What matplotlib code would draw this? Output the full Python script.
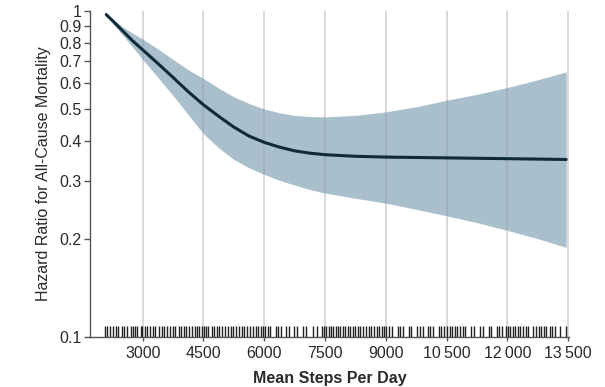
import matplotlib
matplotlib.use("Agg")
import matplotlib.pyplot as plt

plt.rcParams['font.family'] = ['Liberation Sans Narrow', 'Liberation Sans', 'DejaVu Sans']

# Estimated spline (steps per day -> hazard ratio with 95% CI)
steps = [2100, 2250, 2500, 2750, 3000, 3375, 3750, 4125, 4500, 4875, 5250, 5625,
         6000, 6375, 6750, 7125, 7500, 8250, 9000, 9750, 10500, 11250, 12000,
         12750, 13450]
hr = [0.975, 0.935, 0.87, 0.81, 0.76, 0.69, 0.625, 0.565, 0.515, 0.475, 0.44, 0.413,
      0.395, 0.382, 0.372, 0.366, 0.362, 0.358, 0.356, 0.355, 0.354, 0.353, 0.352,
      0.351, 0.350]
lower = [0.975, 0.92, 0.845, 0.775, 0.71, 0.625, 0.55, 0.48, 0.42, 0.38, 0.35, 0.33,
         0.315, 0.302, 0.292, 0.283, 0.276, 0.266, 0.257, 0.246, 0.235, 0.224, 0.212,
         0.20, 0.188]
upper = [0.975, 0.95, 0.895, 0.855, 0.82, 0.765, 0.71, 0.66, 0.62, 0.58, 0.545, 0.52,
         0.50, 0.487, 0.478, 0.474, 0.473, 0.478, 0.49, 0.508, 0.532, 0.555, 0.582,
         0.615, 0.65]

# Rug of individual participants' mean steps
rug = [2060, 2130, 2190, 2270, 2330, 2400, 2490, 2540, 2620, 2700, 2760, 2820, 2870, 2950, 2990,
       3050, 3100, 3180, 3260, 3310, 3400, 3470, 3520, 3600, 3680, 3740, 3800, 3890, 3950, 4020,
       4080, 4150, 4220, 4280, 4350, 4400, 4460, 4510,
       4560, 4620, 4700, 4770, 4830, 4890, 4960, 5040, 5100, 5170, 5230, 5310, 5380, 5440, 5500,
       5580, 5650, 5720, 5790, 5850, 5920, 5980, 6030,
       6090, 6150, 6280, 6340, 6420, 6540, 6600, 6740, 6810, 6960, 7040, 7210, 7300, 7420, 7480, 7530,
       7590, 7640, 7700, 7760, 7820, 7880, 7940, 8000, 8060, 8120, 8180, 8250, 8310, 8370, 8440,
       8500, 8580, 8640, 8710, 8780, 8840, 8900, 8960, 9010,
       9070, 9140, 9300, 9360, 9420, 9560, 9620, 9780, 9850, 9910, 10040, 10100, 10160, 10300,
       10350, 10440, 10520,
       10580, 10640, 10700, 10760, 10830, 10900, 10960, 11100, 11180, 11320, 11400, 11540, 11600,
       11740, 11800, 11870, 11960, 12020,
       12070, 12130, 12190, 12260, 12320, 12390, 12450, 12520, 12640, 12700, 12770, 12840, 12900,
       12960, 13050, 13110, 13180, 13300, 13450]

xticks = [3000, 4500, 6000, 7500, 9000, 10500, 12000, 13500]
xticklabels = ['3000', '4500', '6000', '7500', '9000', '10\u2009500', '12\u2009000', '13\u2009500']
yticks = [0.1, 0.2, 0.3, 0.4, 0.5, 0.6, 0.7, 0.8, 0.9, 1.0]
yticklabels = ['0.1', '0.2', '0.3', '0.4', '0.5', '0.6', '0.7', '0.8', '0.9', '1']

fig = plt.figure(figsize=(6.05, 3.87), dpi=100)
ax = fig.add_axes([0.1488, 0.13, 0.7917, 0.8416])

band = ax.fill_between(steps, lower, upper, color='#a9bfcb', lw=0, zorder=1)

# vertical grid lines; a slightly darker copy shows through the band
for x in xticks:
    ax.axvline(x, color='#d9d9d9', lw=1.4, zorder=0)
    over = ax.axvline(x, color='#8c9ba4', lw=1.2, alpha=0.45, zorder=1.5)
    over.set_clip_path(band.get_paths()[0], band.get_transform())

ax.plot(steps, hr, color='#0f2a3a', lw=2.2, zorder=2, solid_capstyle='round',
        solid_joinstyle='round')

# rug
ax.vlines(rug, 0.1, 0.108, color='#222222', lw=1.0, zorder=3)

ax.set_yscale('log')
ax.set_ylim(0.1, 1.0)
ax.set_xlim(1700, 13520)

ax.set_yticks(yticks)
ax.set_yticklabels(yticklabels)
ax.minorticks_off()
ax.set_xticks(xticks)
ax.set_xticklabels(xticklabels)

ax.tick_params(axis='y', direction='out', length=4, width=1, color='#555555',
               labelsize=11.5, labelcolor='#2a2a2a', pad=2)
ax.tick_params(axis='x', direction='out', length=3, width=1, color='#555555',
               labelsize=11.5, labelcolor='#2a2a2a', pad=4)

for s in ['top', 'right']:
    ax.spines[s].set_visible(False)
ax.spines['left'].set_color('#555555')
ax.spines['bottom'].set_color('#555555')
ax.spines['left'].set_linewidth(1)
ax.spines['bottom'].set_linewidth(1)

ax.set_xlabel('Mean Steps Per Day', fontsize=11.5, color='#2a2a2a', fontweight='bold', labelpad=7)
ax.set_ylabel('Hazard Ratio for All-Cause Mortality', fontsize=11.5, color='#2a2a2a', labelpad=6)

fig.savefig('out.png', dpi=100)
